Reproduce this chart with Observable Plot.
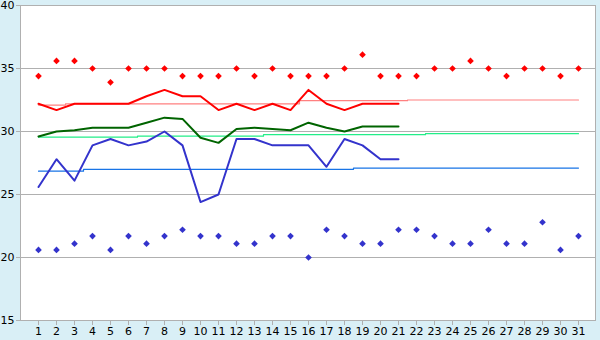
<!DOCTYPE html>
<html>
<head>
<meta charset="utf-8">
<script src="https://cdn.jsdelivr.net/npm/d3@7"></script>
<script src="https://cdn.jsdelivr.net/npm/@observablehq/plot@0.6"></script>
<style>
  html, body { margin: 0; padding: 0; background: #d9eff6; }
  #chart svg { display: block; }
</style>
</head>
<body>
<div id="chart"></div>
<script>
const days = [1,2,3,4,5,6,7,8,9,10,11,12,13,14,15,16,17,18,19,20,21,22,23,24,25,26,27,28,29,30,31];
const yTicks = [15,20,25,30,35,40];
const highs = [34.4,35.6,35.6,35.0,33.9,35.0,35.0,35.0,34.4,34.4,34.4,35.0,34.4,35.0,34.4,34.4,34.4,35.0,36.1,34.4,34.4,34.4,35.0,35.0,35.6,35.0,34.4,35.0,35.0,34.4,35.0];
const lows = [20.6,20.6,21.1,21.7,20.6,21.7,21.1,21.7,22.2,21.7,21.7,21.1,21.1,21.7,21.7,20.0,22.2,21.7,21.1,21.1,22.2,22.2,21.7,21.1,21.1,22.2,21.1,21.1,22.8,20.6,21.7];
const maxLine = [32.2,31.7,32.2,32.2,32.2,32.2,32.8,33.3,32.8,32.8,31.7,32.2,31.7,32.2,31.7,33.3,32.2,31.7,32.2,32.2,32.2];
const meanLine = [29.6,30.0,30.1,30.3,30.3,30.3,30.7,31.1,31.0,29.5,29.1,30.2,30.3,30.2,30.1,30.7,30.3,30.0,30.4,30.4,30.4];
const minLine = [25.6,27.8,26.1,28.9,29.4,28.9,29.2,30.0,28.9,24.4,25.0,29.4,29.4,28.9,28.9,28.9,27.2,29.4,28.9,27.8,27.8];
const normalHigh = [32.1,32.1,32.2,32.2,32.2,32.2,32.2,32.2,32.2,32.2,32.2,32.2,32.2,32.2,32.2,32.45,32.45,32.45,32.45,32.45,32.45,32.5,32.5,32.5,32.5,32.5,32.5,32.5,32.5,32.5,32.5];
const normalMean = [29.55,29.55,29.55,29.55,29.55,29.55,29.63,29.63,29.63,29.63,29.63,29.63,29.63,29.75,29.75,29.75,29.75,29.75,29.75,29.75,29.75,29.75,29.83,29.83,29.83,29.83,29.83,29.83,29.83,29.83,29.83];
const normalLow = [26.85,26.85,26.85,27.0,27.0,27.0,27.0,27.0,27.0,27.0,27.0,27.0,27.0,27.0,27.0,27.0,27.0,27.0,27.1,27.1,27.1,27.1,27.1,27.1,27.1,27.1,27.1,27.1,27.1,27.1,27.1];

const pts = (arr) => arr.map((v, i) => ({day: days[i], v}));

const chart = Plot.plot({
  width: 600,
  height: 340,
  marginLeft: 20,
  marginRight: 5,
  marginTop: 5,
  marginBottom: 20,
  style: {background: "transparent", fontFamily: "DejaVu Sans, sans-serif", fontSize: "10px", color: "black"},
  x: {type: "point", domain: days, padding: 0.5},
  y: {domain: [15, 40]},
  marks: [
    Plot.frame({fill: "white", stroke: "none"}),
    Plot.gridY([20,25,30,35], {stroke: "#b0b0b0", strokeOpacity: 1}),
    Plot.line(pts(normalHigh), {x: "day", y: "v", stroke: "#ff8080", strokeWidth: 1.2, curve: "step"}),
    Plot.line(pts(normalMean), {x: "day", y: "v", stroke: "#22ee88", strokeWidth: 1.2, curve: "step"}),
    Plot.line(pts(normalLow), {x: "day", y: "v", stroke: "#1874e6", strokeWidth: 1.2, curve: "step"}),
    Plot.line(pts(maxLine), {x: "day", y: "v", stroke: "#ff0000", strokeWidth: 2}),
    Plot.line(pts(meanLine), {x: "day", y: "v", stroke: "#006400", strokeWidth: 2}),
    Plot.line(pts(minLine), {x: "day", y: "v", stroke: "#3333cc", strokeWidth: 2}),
    Plot.dot(pts(highs), {x: "day", y: "v", symbol: "diamond2", fill: "#ff0000", r: 3}),
    Plot.dot(pts(lows), {x: "day", y: "v", symbol: "diamond2", fill: "#3333cc", r: 3}),
    Plot.frame({stroke: "#b0b0b0"}),
    Plot.axisY({ticks: yTicks, tickSize: 4, tickPadding: 2, stroke: "#b0b0b0", fill: "black", fontSize: 11, label: null}),
    Plot.axisX({ticks: days, tickSize: 5, tickPadding: 2, stroke: "#b0b0b0", fill: "black", fontSize: 11, label: null})
  ]
});
document.getElementById("chart").appendChild(chart);
</script>
</body>
</html>
